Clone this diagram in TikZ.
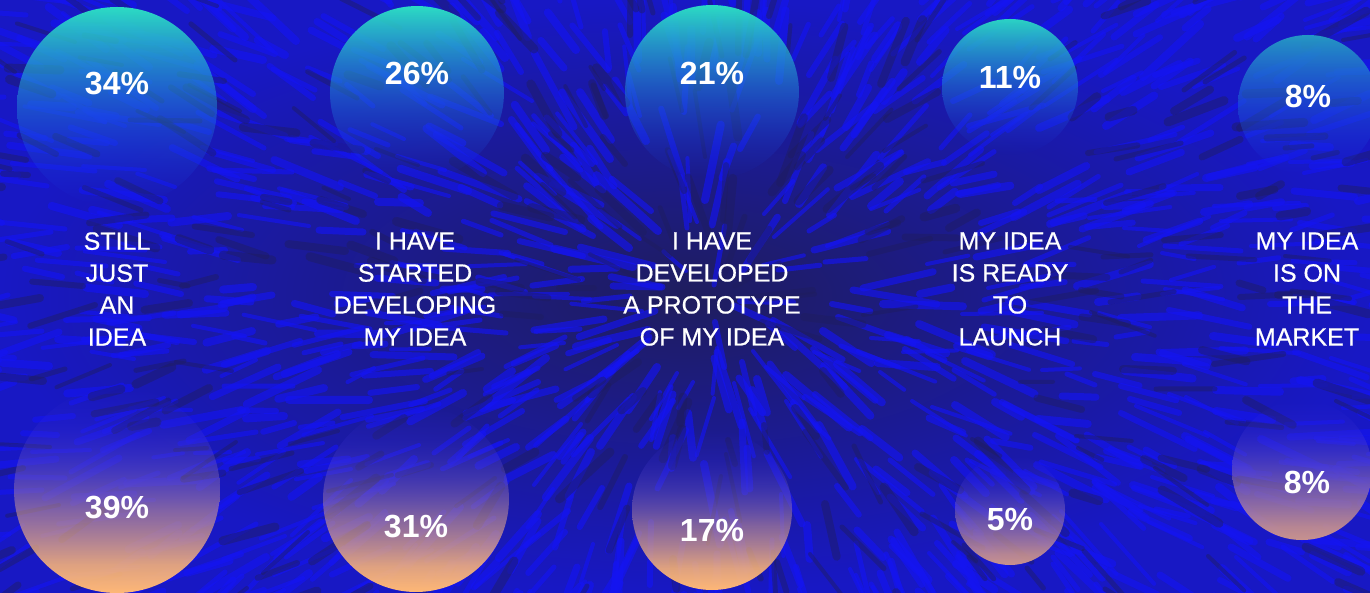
\documentclass[tikz,border=0pt]{standalone}
\usepackage{fontspec}
\setmainfont{Liberation Sans}
\newfontfamily\medfont{Liberation Sans}[FakeBold=0.6]
\usepackage{tikz}
\usetikzlibrary{fadings}
\definecolor{bgblue}{HTML}{1818C4}
\definecolor{bgnavy}{HTML}{1F1D5E}
\definecolor{streak}{HTML}{1414F2}
\definecolor{topcol}{HTML}{2CDCC4}
\definecolor{lilac}{HTML}{3F34D8}
\definecolor{mauve}{HTML}{7A62BC}
\definecolor{peach}{HTML}{FFB876}
\definecolor{dimpeach}{HTML}{C8928E}
% the path is mapped onto 25bp..75bp of the shading
\pgfdeclareverticalshading{warm}{100bp}{color(0bp)=(peach); color(32bp)=(peach); color(45bp)=(peach!60!mauve); color(56bp)=(mauve); color(66bp)=(lilac); color(100bp)=(lilac)}
\pgfdeclareverticalshading{warmdim}{100bp}{color(0bp)=(dimpeach); color(30bp)=(dimpeach); color(45bp)=(dimpeach!50!mauve); color(56bp)=(mauve!80!lilac); color(66bp)=(lilac); color(100bp)=(lilac)}
\tikzfading[name=fadedown, top color=transparent!0, middle color=transparent!15, bottom color=transparent!100]
\tikzfading[name=fadeup, top color=transparent!100, middle color=transparent!10, bottom color=transparent!0]
\tikzstyle{pct} = [text=white, font=\fontsize{32}{32}\selectfont\bfseries]
\tikzstyle{stage} = [text=white, align=center, font=\medfont\fontsize{25}{32}\selectfont]

\begin{document}
\begin{tikzpicture}[x=1pt, y=-1pt]
	\useasboundingbox (0,0) rectangle (1370,592);
	\shade[inner color=bgnavy, outer color=bgblue] (0,0) rectangle (1370,592);
	
	% fur
	\pgfmathsetseed{12}
	\foreach \i in {1, 2, ..., 1100}
	{
		\pgfmathsetmacro{\sx}{random(-30,1400)}
		\pgfmathsetmacro{\sy}{random(-30,620)}
		\pgfmathsetmacro{\ang}{atan2(\sy-296,\sx-712)+random(-18,18)}
		\pgfmathsetmacro{\len}{random(30,85)}
		\pgfmathsetmacro{\wd}{random(4,8)}
		\draw[streak, opacity=0.65, line width=\wd pt, line cap=round] (\sx,\sy) -- ++(\ang:\len) ;
	}
	\foreach \i in {1, 2, ..., 300}
	{
		\pgfmathsetmacro{\sx}{random(0,1370)}
		\pgfmathsetmacro{\sy}{random(0,592)}
		\pgfmathsetmacro{\ang}{atan2(\sy-296,\sx-712)+random(-18,18)}
		\pgfmathsetmacro{\len}{random(25,70)}
		\pgfmathsetmacro{\wd}{random(4,9)}
		\draw[bgnavy, opacity=0.45, line width=\wd pt, line cap=round] (\sx,\sy) -- ++(\ang:\len) ;
	}
	
	% top row
	\foreach \cx/\cy/\r/\mix in {117/107/100/100, 417/93/87/100, 712/92/87/100, 1010/87/68/95, 1308/105/70/65}
	{
		\shade[top color=topcol!\mix!bgblue, bottom color=streak!85!topcol, path fading=fadedown] (\cx,\cy) circle[radius=\r] ;
	}
	
	% bottom row
	\foreach \cx/\cy/\r/\sh in {117/490/103/warm, 416/499/93/warm, 712/510/80/warm, 1010/510/55/warmdim, 1302/470/70/warmdim}
	{
		\shade[shading=\sh, path fading=fadeup] (\cx,\cy) circle[radius=\r] ;
	}
	
	\node[pct] (t1) at (117,84) {34\%} ;
	\node[pct] (t2) at (417,73) {26\%} ;
	\node[pct] (t3) at (712,73) {21\%} ;
	\node[pct] (t4) at (1010,77) {11\%} ;
	\node[pct] (t5) at (1308,96) {8\%} ;
	
	\node[stage] (s1) at (117,289) {STILL\\JUST\\AN\\IDEA} ;
	\node[stage] (s2) at (415,289) {I HAVE\\STARTED\\DEVELOPING\\MY IDEA} ;
	\node[stage] (s3) at (712,289) {I HAVE\\DEVELOPED\\A PROTOTYPE\\OF MY IDEA} ;
	\node[stage] (s4) at (1010,289) {MY IDEA\\IS READY\\TO\\LAUNCH} ;
	\node[stage] (s5) at (1307,289) {MY IDEA\\IS ON\\THE\\MARKET} ;
	
	\node[pct] (b1) at (117,507) {39\%} ;
	\node[pct] (b2) at (416,526) {31\%} ;
	\node[pct] (b3) at (712,530) {17\%} ;
	\node[pct] (b4) at (1010,520) {5\%} ;
	\node[pct] (b5) at (1307,482) {8\%} ;
\end{tikzpicture}
\end{document}
